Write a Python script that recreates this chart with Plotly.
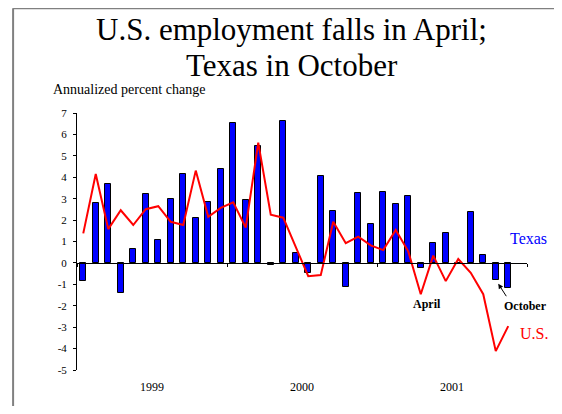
import plotly.graph_objects as go

# monthly, Jan 1999 - Nov 2001
months = ["1999-01", "1999-02", "1999-03", "1999-04", "1999-05", "1999-06",
          "1999-07", "1999-08", "1999-09", "1999-10", "1999-11", "1999-12",
          "2000-01", "2000-02", "2000-03", "2000-04", "2000-05", "2000-06",
          "2000-07", "2000-08", "2000-09", "2000-10", "2000-11", "2000-12",
          "2001-01", "2001-02", "2001-03", "2001-04", "2001-05", "2001-06",
          "2001-07", "2001-08", "2001-09", "2001-10", "2001-11"]
texas = [-0.85, 2.8, 3.69, -1.42, 0.65, 3.2, 1.09, 2.97, 4.15, 2.08, 2.83, 4.37,
         6.52, 2.92, 5.45, -0.12, 6.62, 0.46, -0.49, 4.05, 2.43, -1.12, 3.28, 1.82,
         3.3, 2.74, 3.11, -0.26, 0.92, 1.38, 0.0, 2.37, 0.37, -0.8, -1.15]
us = [1.38, 4.15, 1.58, 2.46, 1.77, 2.51, 2.65, 1.92, 1.77, 4.31, 2.15, 2.57,
      2.83, 1.65, 5.62, 2.25, 2.11, 0.75, -0.62, -0.57, 1.92, 0.92, 1.23, 0.82,
      0.6, 1.54, 0.54, -1.46, 0.34, -0.85, 0.18, -0.46, -1.46, -4.12, -2.95]
years = ["1999", "2000", "2001"]
year_mid = [5.5, 17.5, 29.5]
year_edges = [-0.5, 11.5, 23.5, 35.5]
y_ticks = [-5, -4, -3, -2, -1, 0, 1, 2, 3, 4, 5, 6, 7]
y_labels = ["-5", "-4", "-3", "-2", "-1", "0", "1", "2", "3", "4", "5", "6", "7"]

serif = "Times New Roman, Liberation Serif, serif"
idx = list(range(len(months)))

fig = go.Figure()
fig.add_trace(go.Bar(x=idx, y=texas, name="Texas", hovertext=months,
                     width=0.45, marker=dict(color="#0000ff",
                                             line=dict(color="black", width=1))))
# U.S. line sits on the overlay axis (which also draws the zero line)
fig.add_trace(go.Scatter(x=idx, y=us, name="U.S.", hovertext=months, xaxis="x2",
                         mode="lines", line=dict(color="#ff0000", width=2)))

# page body has an 8px margin, so the figure is 16px smaller than the window
fig.update_layout(
    width=546, height=398, autosize=False,
    margin=dict(l=69, r=27, t=105, b=34),
    paper_bgcolor="white", plot_bgcolor="white",
    showlegend=False, bargap=0,
    font=dict(family=serif, size=11, color="black"),
    xaxis=dict(range=[-0.5, 35.5], tickvals=year_mid, ticktext=years,
               showgrid=False, zeroline=False, showline=False,
               ticks="outside", ticklen=6, tickcolor="rgba(0,0,0,0)",
               tickfont=dict(size=12)),
    xaxis2=dict(range=[-0.5, 35.5], overlaying="x", anchor="free",
                position=5 / 12, side="bottom",
                tickvals=year_edges, showticklabels=False,
                ticks="outside", ticklen=3, tickcolor="black",
                showline=True, linecolor="black", linewidth=1,
                showgrid=False, zeroline=False),
    yaxis=dict(range=[-5, 7], tickvals=y_ticks, ticktext=y_labels,
               showgrid=False, zeroline=False,
               showline=True, linecolor="black", linewidth=1,
               ticks="outside", ticklen=3, tickcolor="black",
               ticklabelstandoff=4, tickfont=dict(size=11)),
)

# slide frame: only the left and top edges are inside the picture
frame = dict(color="#808080", width=2)
fig.add_shape(type="line", xref="paper", yref="paper",
              x0=-0.142, x1=-0.142, y0=-0.4, y1=1.408, line=frame)
fig.add_shape(type="line", xref="paper", yref="paper",
              x0=-0.142, x1=1.3, y0=1.408, y1=1.408, line=frame)

fig.add_annotation(text="U.S. employment falls in April;", xref="paper", yref="paper",
                   x=0.477, y=1.325, yanchor="middle", showarrow=False,
                   font=dict(size=31))
fig.add_annotation(text="Texas in October", xref="paper", yref="paper",
                   x=0.477, y=1.186, yanchor="middle", showarrow=False,
                   font=dict(size=31))
fig.add_annotation(text="Annualized percent change", xref="paper", yref="paper",
                   x=-0.058, y=1.093, xanchor="left", yanchor="middle",
                   showarrow=False, font=dict(size=14))

fig.add_annotation(text="Texas", x=33.96, y=1.16, xanchor="left", showarrow=False,
                   font=dict(size=16, color="#0000ff"))
fig.add_annotation(text="U.S.", x=34.76, y=-3.29, xanchor="left", showarrow=False,
                   font=dict(size=16, color="#ff0000"))
fig.add_annotation(text="<b>April</b>", x=27.48, y=-1.9, showarrow=False,
                   font=dict(size=12))
fig.add_annotation(text="<b>October</b>", x=35.4, y=-2.02, showarrow=False,
                   font=dict(size=12))
fig.add_annotation(text="", x=33.2, y=-0.97, ax=9, ay=14, showarrow=True,
                   arrowhead=2, arrowsize=1, arrowwidth=1, arrowcolor="black")

fig.write_html("out.html")
